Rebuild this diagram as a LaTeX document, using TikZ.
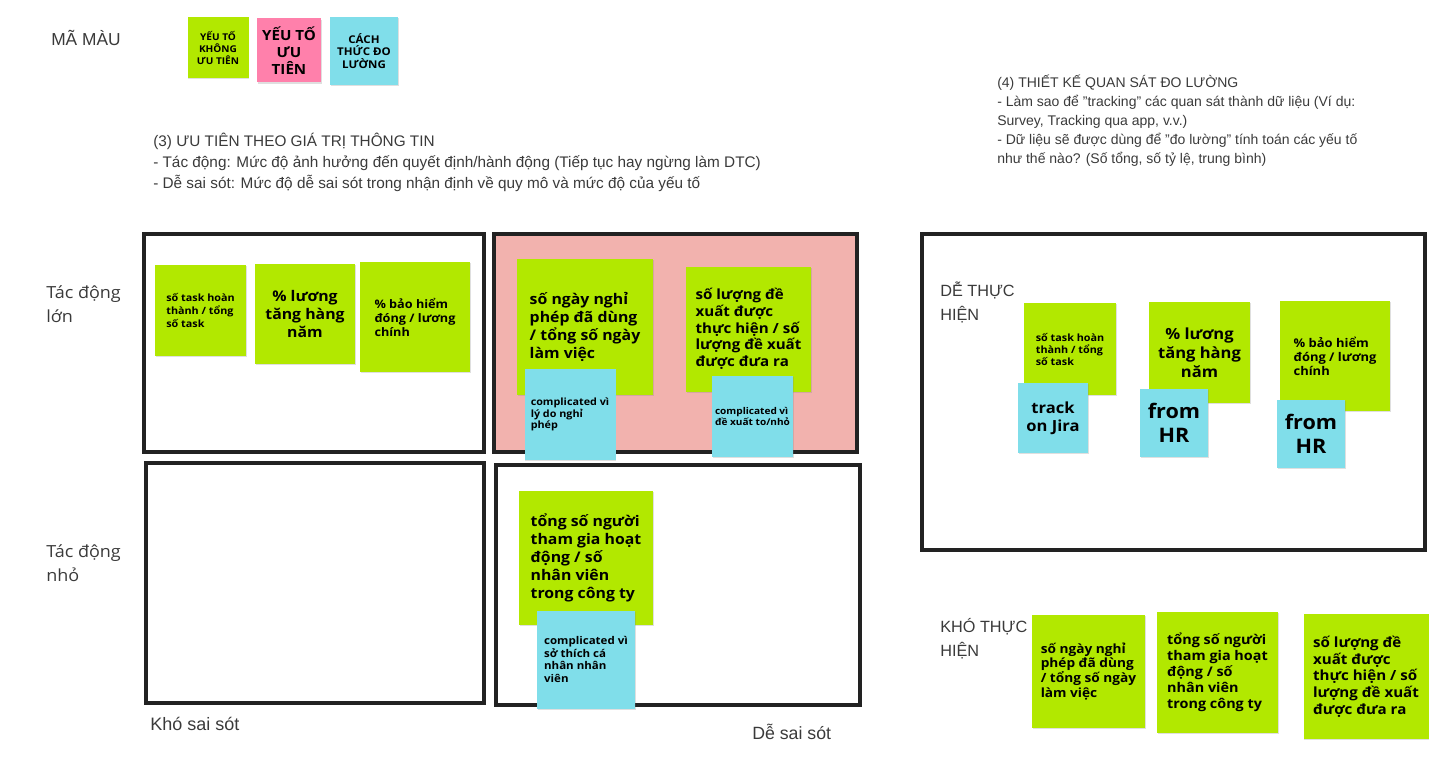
\documentclass[tikz,border=0pt]{standalone}
\usepackage{fontspec}
\setmainfont{Liberation Sans}
\newfontfamily\notefont[FakeStretch=1.08]{Open Sans}
\usetikzlibrary{shadows}

\definecolor{notegreen}{HTML}{B2E800}
\definecolor{notepink}{HTML}{FF80AB}
\definecolor{noteblue}{HTML}{80DEEA}
\definecolor{boxpink}{HTML}{F2B2AE}
\definecolor{framegray}{HTML}{222222}
\definecolor{txtgray}{HTML}{3A3A3A}

\newcommand\nf[2]{\notefont\bfseries\fontsize{#1}{#2}\selectfont}
\newcommand\hf[2]{\fontsize{#1}{#2}\selectfont}
\newcommand\qt{\symbol{34}}

\begin{document}
\begin{tikzpicture}[
    x=0.75pt, y=-0.75pt,
    note/.style={minimum width=#1*0.75pt, minimum height=#1*0.75pt, inner sep=0pt, align=left, text=black,
        drop shadow={opacity=0.25, shadow xshift=0.6pt, shadow yshift=-0.9pt}},
    gnote/.style={note=#1, fill=notegreen},
    bnote/.style={note=#1, fill=noteblue},
    pnote/.style={note=#1, fill=notepink},
    quad/.style={draw=framegray, line width=3pt},
    axistext/.style={text=txtgray, align=left, inner sep=0pt},
    headtext/.style={text=txtgray, align=left, inner sep=0pt, anchor=north west}
]
\useasboundingbox (0,0) rectangle (1448,774);

% Legend
\node (legend) [axistext, anchor=west, font=\hf{13}{16}] at (51,38) {MÃ MÀU};
\node (keylow) [gnote=61, align=center, font=\nf{7}{9}] at (218,47.5) {YẾU TỐ\\KHÔNG\\ƯU TIÊN};
\node (keyhigh) [pnote=64, align=center, font=\nf{10.5}{12.75}] at (289,50.5) {YẾU TỐ\\ƯU\\TIÊN};
\node (keymeas) [bnote=68, align=center, font=\nf{8}{9.4}] at (364,51) {CÁCH\\THỨC ĐO\\LƯỜNG};

% Headers
\node (head3) [headtext, font=\hf{11.5}{15.75}] at (153,133) {(3) ƯU TIÊN THEO GIÁ TRỊ THÔNG TIN\\
- Tác động: Mức độ ảnh hưởng đến quyết định/hành động (Tiếp tục hay ngừng làm DTC)\\
- Dễ sai sót: Mức độ dễ sai sót trong nhận định về quy mô và mức độ của yếu tố};
\node (head4) [headtext, font=\hf{10.5}{14.25}] at (997,75) {(4) THIẾT KẾ QUAN SÁT ĐO LƯỜNG\\
- Làm sao để \qt tracking\qt{} các quan sát thành dữ liệu (Ví dụ:\\
Survey, Tracking qua app, v.v.)\\
- Dữ liệu sẽ được dùng để \qt đo lường\qt{} tính toán các yếu tố\\
như thế nào? (Số tổng, số tỷ lệ, trung bình)};

% Quadrants
\draw[quad] (144,234) rectangle (484,452);
\draw[quad, fill=boxpink] (494,234) rectangle (857,452);
\draw[quad] (146,463) rectangle (484,703);
\draw[quad] (496,465) rectangle (860,705);
\draw[quad] (922,234) rectangle (1425,550);

% Axis labels
\node (bigimpact) [axistext, anchor=west, font=\notefont\fontsize{12.5}{18}\selectfont] at (46,304) {Tác động\\lớn};
\node (smallimpact) [axistext, anchor=west, font=\notefont\fontsize{12.5}{18}\selectfont] at (46,563) {Tác động\\nhỏ};
\node (hardlabel) [axistext, anchor=west, font=\hf{13.5}{15}] at (150,724) {Khó sai sót};
\node (easylabel) [axistext, anchor=west, font=\hf{13.3}{15}] at (752,732) {Dễ sai sót};
\node (easydo) [axistext, anchor=west, font=\hf{12.2}{18}] at (940,302) {DỄ THỰC\\HIỆN};
\node (harddo) [axistext, anchor=west, font=\hf{12.2}{18}] at (940,639) {KHÓ THỰC\\HIỆN};

% Big impact, hard to get wrong
\node (task) [gnote=91, font=\nf{7.5}{9.4}] at (200.5,310.5) {số task hoàn\\thành / tổng\\số task};
\node (salary) [gnote=100, align=center, font=\nf{11}{13.5}] at (305,314) {\% lương\\tăng hàng\\năm};
\node (insur) [gnote=110, font=\nf{8.8}{10.5}] at (415,317) {\% bảo hiểm\\đóng / lương\\chính};

% Big impact, easy to get wrong
\node (leave) [gnote=136, font=\nf{11}{13.5}] at (585,327) {số ngày nghỉ\\phép đã dùng\\/ tổng số ngày\\làm việc};
\node (ideas) [gnote=125, font=\nf{10.5}{12.5}] at (748.5,329) {số lượng đề\\xuất được\\thực hiện / số\\lượng đề xuất\\được đưa ra};
\node (leavewhy) [bnote=91, font=\nf{7.5}{8.8}] at (570,414.5) {complicated vì\\lý do nghỉ\\phép};
\node (ideaswhy) [bnote=81, font=\nf{7}{8.8}] at (752.5,416.5) {complicated vì\\đề xuất to/nhỏ};

% Small impact, easy to get wrong
\node (join) [gnote=134, font=\nf{11}{13.5}] at (586,558) {tổng số người\\tham gia hoạt\\động / số\\nhân viên\\trong công ty};
\node (joinwhy) [bnote=98, font=\nf{8}{9.5}] at (586,659.5) {complicated vì\\sở thích cá\\nhân nhân\\viên};

% Easy to carry out
\node (task2) [gnote=92, font=\nf{7.5}{9}] at (1070,349) {số task hoàn\\thành / tổng\\số task};
\node (jira) [bnote=70, align=center, font=\nf{11.5}{13.5}] at (1053,418) {track\\on Jira};
\node (salary2) [gnote=101, align=center, font=\nf{11.5}{14.25}] at (1199.5,352.5) {\% lương\\tăng hàng\\năm};
\node (hr1) [bnote=68, align=center, font=\nf{15}{17.5}] at (1174,423) {from\\HR};
\node (insur2) [gnote=110, font=\nf{9}{10.5}] at (1335,356) {\% bảo hiểm\\đóng / lương\\chính};
\node (hr2) [bnote=68, align=center, font=\nf{15}{17.5}] at (1311,434) {from\\HR};

% Hard to carry out
\node (leave2) [gnote=113, font=\nf{9.5}{11.2}] at (1088.5,671.5) {số ngày nghỉ\\phép đã dùng\\/ tổng số ngày\\làm việc};
\node (join2) [gnote=121, font=\nf{10}{12}] at (1217.5,672.5) {tổng số người\\tham gia hoạt\\động / số\\nhân viên\\trong công ty};
\node (ideas2) [gnote=125, font=\nf{10.5}{12.5}] at (1366,676.5) {số lượng đề\\xuất được\\thực hiện / số\\lượng đề xuất\\được đưa ra};

\end{tikzpicture}
\end{document}
